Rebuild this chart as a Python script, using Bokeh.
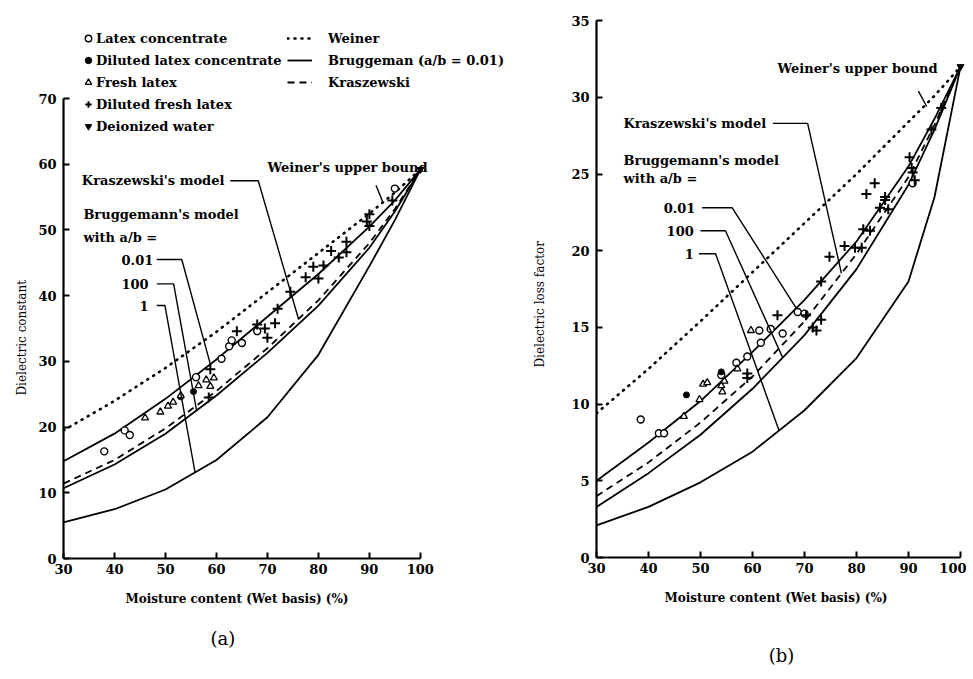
import numpy as np
from bokeh.plotting import figure
from bokeh.models import Range1d, FixedTicker, Label, Legend, LegendItem, Title
from bokeh.layouts import row
from bokeh.embed import file_html
from bokeh.resources import INLINE

FONT = "DejaVu Serif"

# ---------------- model curves ----------------
moisture_model = [30, 40, 50, 60, 70, 80, 90, 95, 100]

# (a) dielectric constant
weiner_a = [19.5, 24.0, 29.0, 34.5, 40.5, 46.5, 52.5, 55.7, 59.2]
brug001_a = [14.8, 19.0, 24.3, 30.3, 36.8, 43.3, 50.5, 54.5, 59.2]
kras_a = [11.4, 15.0, 19.8, 25.5, 32.0, 39.3, 48.0, 53.2, 59.2]
brug100_a = [10.7, 14.3, 19.0, 24.8, 31.3, 38.5, 47.3, 52.8, 59.2]
brug1_a = [5.5, 7.5, 10.5, 15.0, 21.5, 31.0, 44.5, 51.5, 59.2]

# (b) dielectric loss factor
weiner_b = [9.4, 12.3, 15.4, 18.6, 21.8, 25.0, 28.4, 30.1, 32.0]
brug001_b = [5.0, 7.5, 10.2, 13.4, 16.8, 20.6, 25.5, 28.6, 32.0]
kras_b = [4.0, 6.2, 8.8, 11.8, 15.4, 19.8, 24.8, 28.2, 32.0]
brug100_b = [3.3, 5.5, 8.0, 11.0, 14.5, 18.8, 24.3, 27.9, 32.0]
brug1_b = [2.1, 3.3, 4.9, 6.9, 9.6, 13.0, 18.0, 23.5, 32.0]

# ---------------- measured points (a) ----------------
latex_conc_a_x = [38, 42, 43, 56, 61, 62.5, 63, 65, 68, 95]
latex_conc_a_y = [16.3, 19.5, 18.8, 27.6, 30.4, 32.3, 33.2, 32.8, 34.6, 56.3]
dil_latex_conc_a_x = [53, 55.5]
dil_latex_conc_a_y = [24.6, 25.4]
fresh_a_x = [46, 49, 50.5, 51.5, 53, 56.5, 58, 58.8, 59.5]
fresh_a_y = [21.4, 22.3, 23.2, 23.8, 24.8, 26.3, 27.2, 26.2, 27.5]
dil_fresh_a_x = [58.5, 58.8, 64, 68, 69.5, 70, 71.5, 72, 74.5, 77.5, 80, 79, 81,
                 82.5, 84, 85.5, 85.5, 90, 90, 89.5, 94.5]
dil_fresh_a_y = [24.5, 28.8, 34.6, 35.6, 35.0, 33.6, 35.8, 38.0, 40.6, 42.8, 42.6,
                 44.4, 44.6, 46.8, 45.8, 48.2, 46.6, 52.4, 50.6, 51.3, 54.5]
water_a_x = [100]
water_a_y = [59.2]

# ---------------- measured points (b) ----------------
latex_conc_b_x = [38.5, 42, 43, 54, 56.9, 59, 61.3, 61.6, 63.5, 65.8, 68.7, 70, 90.8]
latex_conc_b_y = [9.0, 8.1, 8.1, 11.9, 12.7, 13.1, 14.8, 14.0, 14.9, 14.6, 16.0, 15.9, 24.4]
dil_latex_conc_b_x = [47.3, 54]
dil_latex_conc_b_y = [10.6, 12.1]
fresh_b_x = [46.8, 49.8, 50.5, 51.3, 54, 54.6, 54.2, 57.1, 59.7]
fresh_b_y = [9.2, 10.3, 11.3, 11.4, 11.2, 11.5, 10.8, 12.3, 14.8]
dil_fresh_b_x = [59, 59, 64.8, 70.3, 71.6, 72.3, 73.2, 73.2, 74.8, 77.7, 79.7, 81,
                 81.3, 82.6, 81.9, 83.5, 84.5, 85.5, 86.1, 85.5, 90.2, 90.6, 90.8,
                 91.2, 94.4, 96.3]
dil_fresh_b_y = [12.0, 11.7, 15.8, 15.8, 15.0, 14.8, 15.5, 18.0, 19.6, 20.3, 20.2,
                 20.2, 21.4, 21.3, 23.7, 24.4, 22.8, 23.3, 22.7, 23.5, 26.1, 25.4,
                 25.1, 24.6, 27.9, 29.3]
water_b_x = [100]
water_b_y = [32.0]

x_ticks = [30, 40, 50, 60, 70, 80, 90, 100]
y_ticks_a = [0, 10, 20, 30, 40, 50, 60, 70]
y_ticks_b = [0, 5, 10, 15, 20, 25, 30, 35]

legend_markers = ["Latex concentrate", "Diluted latex concentrate", "Fresh latex",
                  "Diluted fresh latex", "Deionized water"]
legend_lines = ["Weiner", "Bruggeman (a/b = 0.01)", "Kraszewski"]


def style(p, ybounds, yticks):
    p.xaxis.bounds = (30, 100)
    p.yaxis.bounds = ybounds
    p.xaxis.ticker = FixedTicker(ticks=x_ticks)
    p.yaxis.ticker = FixedTicker(ticks=yticks)
    for ax in (p.xaxis[0], p.yaxis[0]):
        ax.axis_line_width = 2.2
        ax.axis_line_color = "black"
        ax.major_tick_in = 6
        ax.major_tick_out = 0
        ax.major_tick_line_width = 2
        ax.major_tick_line_color = "black"
        ax.minor_tick_line_color = None
        ax.major_label_text_font = FONT
        ax.major_label_text_font_style = "bold"
        ax.major_label_text_font_size = "13px"
        ax.major_label_text_color = "black"
    p.xaxis.major_label_standoff = 5
    p.yaxis.major_label_standoff = 7
    p.grid.visible = False
    p.outline_line_color = None
    p.background_fill_color = "white"
    p.border_fill_color = "white"


def curves(p, w, b001, k, b100, b1):
    rw = p.line(moisture_model, w, line_dash="1 6", line_width=2.6, line_cap="round", color="black")
    rb = p.line(moisture_model, b001, line_width=1.8, color="black")
    rk = p.line(moisture_model, k, line_dash="7 5", line_width=1.8, color="black")
    p.line(moisture_model, b100, line_width=1.8, color="black")
    p.line(moisture_model, b1, line_width=1.8, color="black")
    return rw, rb, rk


def points(p, lc, dlc, fr, dfr, wat):
    r1 = p.scatter(lc[0], lc[1], marker="circle", size=7, fill_color="white",
                   line_color="black", line_width=1.4)
    r2 = p.scatter(dlc[0], dlc[1], marker="circle", size=6, fill_color="black",
                   line_color="black")
    r3 = p.scatter(fr[0], fr[1], marker="triangle", size=7, fill_color="white",
                   line_color="black", line_width=1.3)
    r4 = p.scatter(dfr[0], dfr[1], marker="cross", size=10, line_color="black",
                   line_width=2)
    r5 = p.scatter(wat[0], wat[1], marker="inverted_triangle", size=7,
                   fill_color="black", line_color="black")
    return [r1, r2, r3, r4, r5]


def text(p, x, y, t, size="13px", align="left"):
    p.add_layout(Label(x=x, y=y, text=t, text_font=FONT, text_font_size=size,
                       text_font_style="bold", text_align=align,
                       text_baseline="middle", text_color="black"))


def side_title(p, t, place, size, bold, align, offset, standoff, valign="bottom"):
    p.add_layout(Title(text=t, text_font=FONT, text_font_size=size,
                       text_font_style="bold" if bold else "normal",
                       align=align, offset=offset, standoff=standoff,
                       vertical_align=valign, text_color="black"), place)


def leader(p, xs, ys):
    p.line(xs, ys, line_width=1.4, color="black")


def legend(items, renderers, loc, gw, standoff):
    return Legend(items=[LegendItem(label=l, renderers=[r]) for l, r in zip(items, renderers)],
                  location=loc, glyph_width=gw, glyph_height=16, label_height=16,
                  label_standoff=standoff, spacing=6, padding=0, margin=0,
                  border_line_color=None, background_fill_alpha=0,
                  label_text_font=FONT, label_text_font_style="bold",
                  label_text_font_size="13px", label_text_color="black")


# ======================= panel (a) =======================
pa = figure(frame_width=442, frame_height=546, x_range=Range1d(30, 116.7),
            y_range=Range1d(0, 83.1), output_backend="svg", toolbar_location=None,
            title_location=None,
            min_border_left=63, min_border_right=5, min_border_top=12,
            min_border_bottom=110)
style(pa, (0, 70), y_ticks_a)
rw, rb, rk = curves(pa, weiner_a, brug001_a, kras_a, brug100_a, brug1_a)
ra = points(pa, (latex_conc_a_x, latex_conc_a_y), (dil_latex_conc_a_x, dil_latex_conc_a_y),
            (fresh_a_x, fresh_a_y), (dil_fresh_a_x, dil_fresh_a_y), (water_a_x, water_a_y))

pa.add_layout(legend(legend_markers, ra, (17, 424), 16, 0))
pa.add_layout(legend(legend_lines, [rw, rb, rk], (224, 468), 25, 16))

text(pa, 70.0, 59.5, "Weiner's upper bound")
leader(pa, [91.3, 92.6], [56.8, 54.3])
text(pa, 33.6, 57.5, "Kraszewski's model")
leader(pa, [62.7, 68.2, 76.1], [57.5, 57.5, float(np.interp(76.1, moisture_model, kras_a))])
text(pa, 33.9, 52.3, "Bruggemann's model")
text(pa, 33.9, 48.8, "with a/b =")
text(pa, 47.6, 45.5, "0.01", align="right")
leader(pa, [48.3, 53.2, 58.8], [45.5, 45.5, float(np.interp(58.8, moisture_model, brug001_a))])
text(pa, 46.7, 41.8, "100", align="right")
leader(pa, [48.3, 51.6, 56.1], [41.8, 41.8, float(np.interp(56.1, moisture_model, brug100_a))])
text(pa, 46.7, 38.5, "1", align="right")
leader(pa, [48.3, 49.9, 55.8], [38.5, 38.5, float(np.interp(55.8, moisture_model, brug1_a))])

side_title(pa, "Dielectric constant", "left", "12px", False, "left", 163, 12, "middle")
side_title(pa, "Moisture content (Wet basis) (%)", "below", "12px", True, "left", 62, 26)
side_title(pa, "(a)", "below", "18px", False, "left", 147, 15)

# ======================= panel (b) =======================
pb = figure(frame_width=370, frame_height=545, x_range=Range1d(30, 101.15),
            y_range=Range1d(0, 35.53), output_backend="svg", toolbar_location=None,
            title_location=None,
            min_border_left=83, min_border_right=0, min_border_top=12,
            min_border_bottom=110)
style(pb, (0, 35), y_ticks_b)
curves(pb, weiner_b, brug001_b, kras_b, brug100_b, brug1_b)
points(pb, (latex_conc_b_x, latex_conc_b_y), (dil_latex_conc_b_x, dil_latex_conc_b_y),
       (fresh_b_x, fresh_b_y), (dil_fresh_b_x, dil_fresh_b_y), (water_b_x, water_b_y))

text(pb, 64.8, 31.9, "Weiner's upper bound")
leader(pb, [91.9, 93.5], [30.4, 29.4])
text(pb, 35.2, 28.3, "Kraszewski's model")
leader(pb, [63.9, 70.6, 77.1], [28.3, 28.3, float(np.interp(77.1, moisture_model, kras_b))])
text(pb, 35.2, 25.85, "Bruggemann's model")
text(pb, 35.2, 24.7, "with a/b =")
text(pb, 49.0, 22.8, "0.01", align="right")
leader(pb, [50.3, 56.1, 68.4], [22.8, 22.8, float(np.interp(68.4, moisture_model, brug001_b))])
text(pb, 48.7, 21.3, "100", align="right")
leader(pb, [50.0, 54.8, 65.8], [21.3, 21.3, float(np.interp(65.8, moisture_model, brug100_b))])
text(pb, 48.7, 19.8, "1", align="right")
leader(pb, [49.7, 52.9, 65.1], [19.8, 19.8, float(np.interp(65.1, moisture_model, brug1_b))])

side_title(pb, "Dielectric loss factor", "left", "12px", False, "left", 190, 42, "middle")
side_title(pb, "Moisture content (Wet basis) (%)", "below", "12px", True, "left", 68, 26)
side_title(pb, "(b)", "below", "18px", False, "center", 0, 50)

layout = row(pa, pb)
open("out.html", "w").write(file_html(layout, INLINE))
